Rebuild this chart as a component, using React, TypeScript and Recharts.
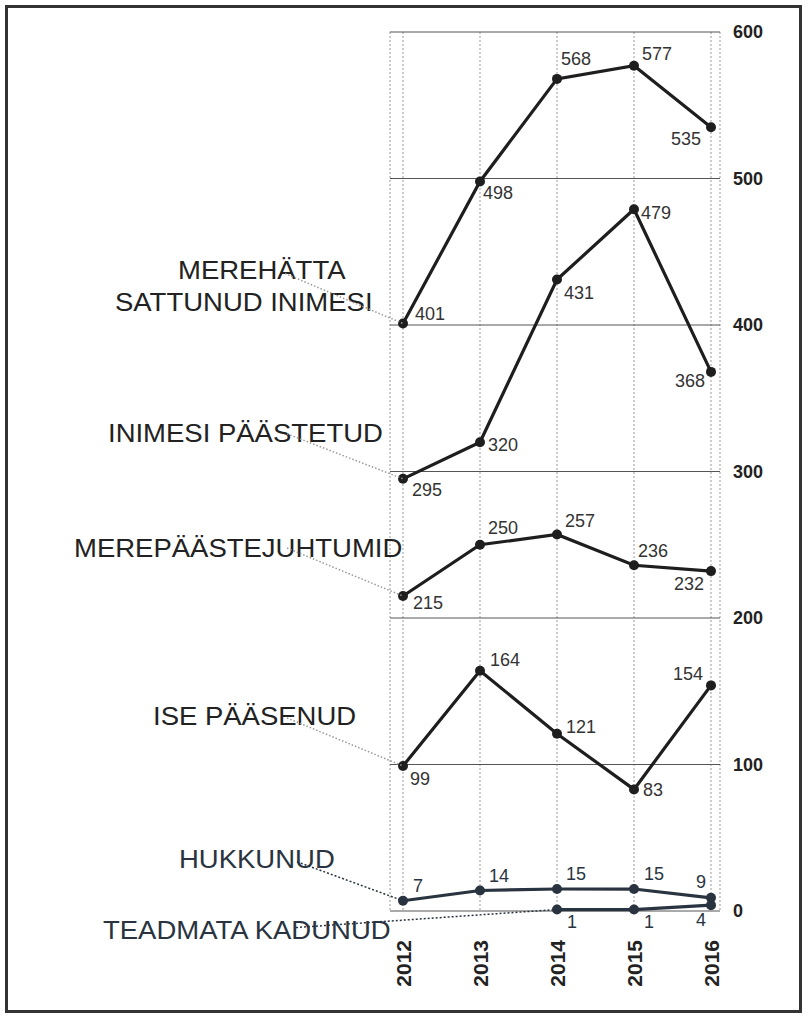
import React from "react";
import { LineChart, Line, XAxis, YAxis, CartesianGrid, LabelList } from "recharts";

const years = ["2012", "2013", "2014", "2015", "2016"];
const merehattaInimesi = [401, 498, 568, 577, 535];
const inimesiPaastetud = [295, 320, 431, 479, 368];
const merepaastejuhtumid = [215, 250, 257, 236, 232];
const isePaasenud = [99, 164, 121, 83, 154];
const hukkunud = [7, 14, 15, 15, 9];
const teadmataKadunud = [null, null, 1, 1, 4];
const yTicks = [0, 100, 200, 300, 400, 500, 600];

const FONT = "'Liberation Sans', Arial, Helvetica, sans-serif";
const DARK = "#1e1e1e";
const SLATE = "#293440";

type Place = [number, number, "start" | "end"];

// label placement around each point: dx, dy (baseline), anchor
interface SeriesCfg {
  key: string;
  values: (number | null)[];
  color: string;
  textColor: string;
  leaderColor: string;
  leaderDash: string;
  name: { text: string; dx: number; dy: number }[];
  leader: [number, number];
  places: Place[];
}

const series: SeriesCfg[] = [
  {
    key: "merehatta",
    values: merehattaInimesi,
    color: DARK,
    textColor: "#222",
    leaderColor: "#9a9a9a",
    leaderDash: "1.5 2",
    name: [
      { text: "MEREHÄTTA", dx: -225, dy: -45 },
      { text: "SATTUNUD INIMESI", dx: -288, dy: -13 },
    ],
    leader: [-118, -50],
    places: [[12, -4, "start"], [3, 18, "start"], [4, -14, "start"], [8, -6, "start"], [-10, 18, "end"]],
  },
  {
    key: "paastetud",
    values: inimesiPaastetud,
    color: DARK,
    textColor: "#222",
    leaderColor: "#9a9a9a",
    leaderDash: "1.5 2",
    name: [{ text: "INIMESI PÄÄSTETUD", dx: -295, dy: -37 }],
    leader: [-116, -45],
    places: [[9, 17, "start"], [8, 9, "start"], [7, 19, "start"], [7, 10, "start"], [-6, 15, "end"]],
  },
  {
    key: "juhtumid",
    values: merepaastejuhtumid,
    color: DARK,
    textColor: "#222",
    leaderColor: "#9a9a9a",
    leaderDash: "1.5 2",
    name: [{ text: "MEREPÄÄSTEJUHTUMID", dx: -329, dy: -39 }],
    leader: [-116, -48],
    places: [[10, 13, "start"], [8, -11, "start"], [8, -7, "start"], [4, -8, "start"], [-7, 19, "end"]],
  },
  {
    key: "ise",
    values: isePaasenud,
    color: DARK,
    textColor: "#222",
    leaderColor: "#9a9a9a",
    leaderDash: "1.5 2",
    name: [{ text: "ISE PÄÄSENUD", dx: -250, dy: -41 }],
    leader: [-116, -48],
    places: [[7, 19, "start"], [10, -5, "start"], [9, -1, "start"], [9, 7, "start"], [-8, -5, "end"]],
  },
  {
    key: "hukkunud",
    values: hukkunud,
    color: SLATE,
    textColor: SLATE,
    leaderColor: SLATE,
    leaderDash: "2 2",
    name: [{ text: "HUKKUNUD", dx: -224, dy: -33 }],
    leader: [-106, -39],
    places: [[10, -9, "start"], [9, -8, "start"], [9, -9, "start"], [10, -9, "start"], [-5, -10, "end"]],
  },
  {
    key: "kadunud",
    values: teadmataKadunud,
    color: SLATE,
    textColor: SLATE,
    leaderColor: SLATE,
    leaderDash: "2 2",
    name: [{ text: "TEADMATA KADUNUD", dx: -454, dy: 29 }],
    leader: [-261, 18],
    places: [[0, 0, "start"], [0, 0, "start"], [10, 18, "start"], [10, 18, "start"], [-5, 21, "end"]],
  },
];

const data = years.map((year, i) => {
  const row: Record<string, string | number | null> = { year };
  series.forEach((s) => (row[s.key] = s.values[i]));
  return row;
});

const makeLabel = (s: SeriesCfg) => {
  const first = s.values.findIndex((v) => v != null);
  return (props: any) => {
    const { value, index } = props;
    if (value == null) return null;
    const x = props.x ?? props.viewBox?.x;
    const y = props.y ?? props.viewBox?.y;
    if (x == null || y == null) return null;
    const [dx, dy, anchor] = s.places[index];
    return (
      <g>
        {index === first && (
          <g>
            {s.name.map((n) => (
              <text
                key={n.text}
                transform={`translate(${x + n.dx},${y + n.dy}) scale(1.1,1)`}
                fontFamily={FONT}
                fontSize={25}
                fill={s.textColor}
              >
                {n.text}
              </text>
            ))}
            <line
              x1={x + s.leader[0]}
              y1={y + s.leader[1]}
              x2={x}
              y2={y}
              stroke={s.leaderColor}
              strokeWidth={1.5}
              strokeDasharray={s.leaderDash}
            />
          </g>
        )}
        <text
          x={x + dx}
          y={y + dy}
          textAnchor={anchor}
          fontFamily={FONT}
          fontSize={18}
          fill={s.textColor === SLATE ? SLATE : "#333"}
        >
          {value}
        </text>
      </g>
    );
  };
};

const YearTick = (props: any) => {
  const { x, y, payload } = props;
  return (
    <g transform={`translate(${x},${y})`}>
      <text
        transform="rotate(-90)"
        x={-29}
        y={0}
        textAnchor="end"
        dominantBaseline="central"
        fontFamily={FONT}
        fontSize={21}
        fontWeight="bold"
        fill="#222"
      >
        {payload.value}
      </text>
    </g>
  );
};

export default function App() {
  return (
    <div
      style={{
        position: "absolute",
        left: 5,
        top: 5,
        width: 791,
        height: 1002,
        border: "3px solid #333",
        background: "#fff",
      }}
    >
      <LineChart
        width={780}
        height={1000}
        data={data}
        margin={{ top: 24, right: 18, bottom: 27, left: 382 }}
      >
        <CartesianGrid horizontal={false} vertical={true} stroke="#999" strokeDasharray="2 2" />
        <CartesianGrid horizontal={true} vertical={false} stroke="#555" />
        <XAxis
          dataKey="year"
          type="category"
          padding={{ left: 13, right: 9 }}
          axisLine={false}
          tickLine={false}
          tickSize={0}
          tickMargin={0}
          height={70}
          tick={<YearTick />}
          interval={0}
        />
        <YAxis
          orientation="right"
          domain={[0, 600]}
          ticks={yTicks}
          axisLine={false}
          tickLine={false}
          tickSize={6}
          tickMargin={7}
          width={50}
          tick={{ fontFamily: FONT, fontSize: 18, fontWeight: "bold", fill: "#222" }}
        />
        {series.map((s) => (
          <Line
            key={s.key}
            dataKey={s.key}
            type="linear"
            stroke={s.color}
            strokeWidth={3.2}
            dot={{ r: 5, fill: s.color, stroke: s.color, strokeWidth: 0 }}
            isAnimationActive={false}
            connectNulls={false}
          >
            <LabelList dataKey={s.key} content={makeLabel(s)} />
          </Line>
        ))}
      </LineChart>
    </div>
  );
}
